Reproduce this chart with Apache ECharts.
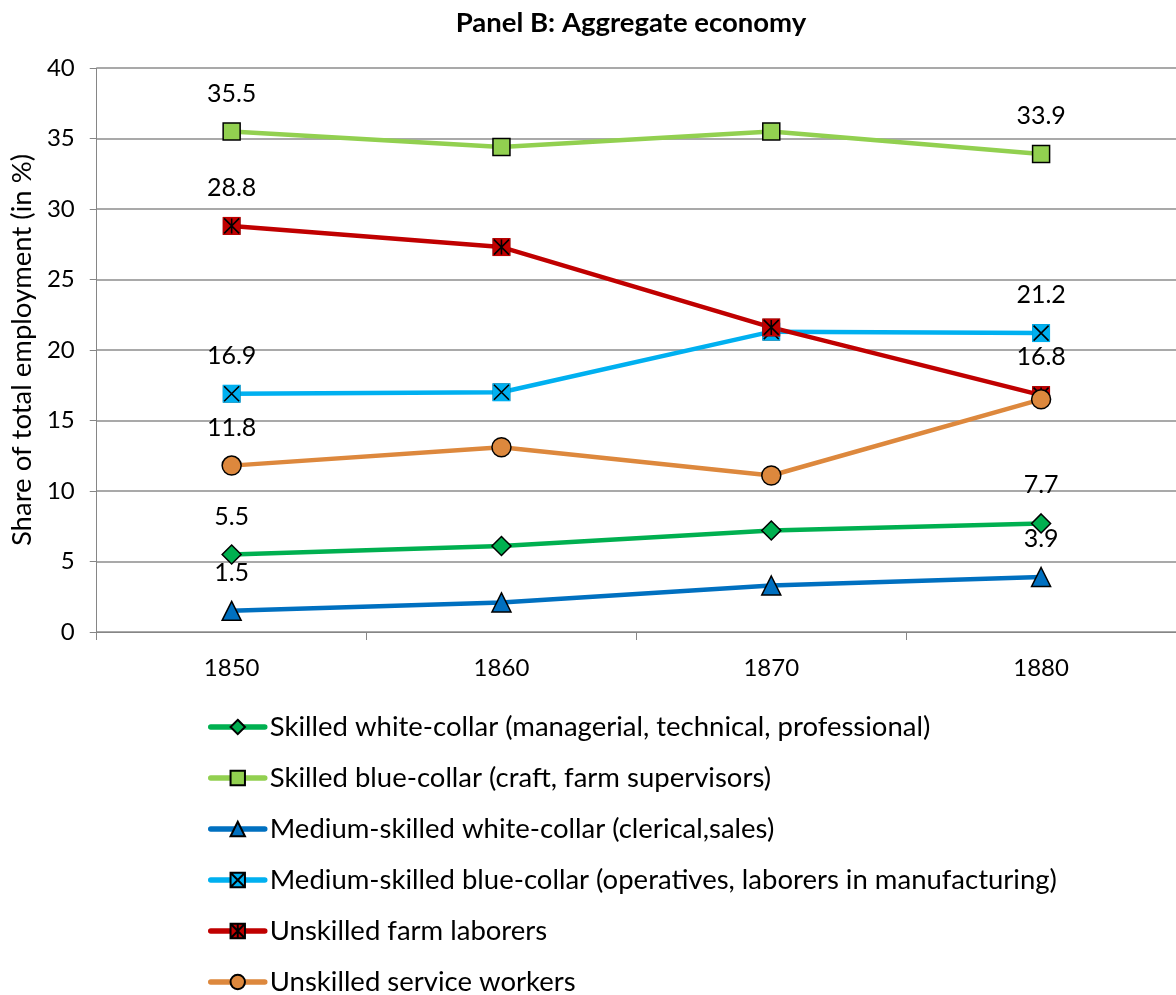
<!DOCTYPE html>
<html>
<head>
<meta charset="utf-8">
<script src="https://cdn.jsdelivr.net/npm/echarts@6/dist/echarts.min.js"></script>
<style>
  html, body { margin: 0; padding: 0; background: #fff; }
  #chart { width: 1176px; height: 995px; }
</style>
</head>
<body>
<div id="chart"></div>
<script>
// Decades on the horizontal axis
const years = ['1850', '1860', '1870', '1880'];

// Share of total employment (in %) by occupational group
const skilledWhite = [5.5, 6.1, 7.2, 7.7];
const skilledBlue = [35.5, 34.4, 35.5, 33.9];
const mediumWhite = [1.5, 2.1, 3.3, 3.9];
const mediumBlue = [16.9, 17.0, 21.3, 21.2];
const farmLaborers = [28.8, 27.3, 21.6, 16.8];
const serviceWorkers = [11.8, 13.1, 11.1, 16.5];

// Which points carry a value label (indices into years)
const labeledSkilledWhite = [0, 3];
const labeledSkilledBlue = [0, 3];
const labeledMediumWhite = [0, 3];
const labeledMediumBlue = [0, 3];
const labeledFarm = [0, 3];
const labeledService = [0];

const seriesNames = [
  'Skilled white-collar (managerial, technical, professional)',
  'Skilled blue-collar (craft, farm supervisors)',
  'Medium-skilled white-collar (clerical,sales)',
  'Medium-skilled blue-collar (operatives, laborers in manufacturing)',
  'Unskilled farm laborers',
  'Unskilled service workers'
];

const FONT = 'Lato, "Open Sans", sans-serif';
const PATH_X = 'path://M0,0L10,10M10,0L0,10';
const PATH_STAR = 'path://M0,0L10,10M10,0L0,10M5,0L5,10';
const PATH_SQ_X = 'path://M0,0L10,0L10,10L0,10Z M0,0L10,10M10,0L0,10';
const PATH_SQ_STAR = 'path://M0,0L10,0L10,10L0,10Z M0,0L10,10M10,0L0,10M5,0L5,10';

function withLabels(values, labeled) {
  return values.map((v, i) => labeled.includes(i)
    ? { value: v, label: { show: true } }
    : { value: v });
}

const labelStyle = {
  show: false,
  position: 'inside',
  offset: [0, -38],
  color: '#000',
  fontSize: 25,
  fontFamily: FONT,
  formatter: p => p.value.toFixed(1)
};

function lineSeries(name, values, labeled, color, symbol, size) {
  return {
    name: name,
    type: 'line',
    data: withLabels(values, labeled),
    symbol: symbol,
    symbolSize: size,
    showAllSymbol: true,
    lineStyle: { color: color, width: 4.5 },
    itemStyle: { color: color, borderColor: '#000', borderWidth: 1.5 },
    label: labelStyle,
    emphasis: { disabled: true },
    animation: false
  };
}

// Marker-only layer over a series' points (no line, not in the legend)
function markerLayer(name, values, symbol, size, fill, stroke, strokeWidth) {
  return {
    name: name,
    type: 'line',
    data: values,
    symbol: symbol,
    symbolSize: size,
    showAllSymbol: true,
    lineStyle: { opacity: 0, width: 0 },
    itemStyle: { color: fill, borderColor: stroke, borderWidth: strokeWidth },
    label: { show: false },
    emphasis: { disabled: true },
    silent: true,
    animation: false
  };
}

const chart = echarts.init(document.getElementById('chart'), null, { renderer: 'canvas' });

chart.setOption({
  backgroundColor: '#fff',
  animation: false,
  title: {
    text: 'Panel B: Aggregate economy',
    left: 631,
    textAlign: 'center',
    top: 9,
    padding: 0,
    textStyle: { fontFamily: FONT, fontWeight: 'bold', fontSize: 27.5, color: '#000' }
  },
  grid: { left: 95, top: 68, width: 1088, height: 564, containLabel: false },
  legend: {
    orient: 'vertical',
    left: 208,
    top: 713,
    height: 320,
    padding: 0,
    itemWidth: 54,
    itemHeight: 18,
    itemGap: 23,
    lineStyle: { width: 5.5, cap: 'round' },
    textStyle: { fontFamily: FONT, fontSize: 27.5, color: '#000', lineHeight: 26 },
    data: seriesNames
  },
  xAxis: {
    type: 'category',
    data: years,
    boundaryGap: true,
    axisLine: { lineStyle: { color: '#868686', width: 1 } },
    axisTick: { show: true, length: 8, lineStyle: { color: '#868686' } },
    axisLabel: { fontFamily: FONT, fontSize: 24, color: '#000', margin: 24 },
    splitLine: { show: false }
  },
  yAxis: {
    type: 'value',
    min: 0,
    max: 40,
    interval: 5,
    name: 'Share of total employment (in %)',
    nameLocation: 'middle',
    nameRotate: 90,
    nameGap: 52,
    nameTextStyle: { fontFamily: FONT, fontSize: 27.5, color: '#000' },
    axisLine: { show: true, lineStyle: { color: '#868686', width: 1 } },
    axisTick: { show: true, inside: false, length: 7, lineStyle: { color: '#868686' } },
    axisLabel: { fontFamily: FONT, fontSize: 24, color: '#000', margin: 22 },
    splitLine: { show: true, lineStyle: { color: '#8c8c8c', width: 1.5 } }
  },
  series: [
    lineSeries(seriesNames[0], skilledWhite, labeledSkilledWhite, '#00b050', 'diamond', 19),
    lineSeries(seriesNames[1], skilledBlue, labeledSkilledBlue, '#92d050', 'rect', 17),
    lineSeries(seriesNames[2], mediumWhite, labeledMediumWhite, '#0070c0', 'triangle', 19),
    // Square-with-cross marker: outlined shape for the legend, borderless fill and cross on the plot
    lineSeries(seriesNames[3], mediumBlue, labeledMediumBlue, '#00b0f0', PATH_SQ_X, 16),
    markerLayer('medium-blue-fill', mediumBlue, 'rect', 18, '#00b0f0', '#00b0f0', 0),
    markerLayer('medium-blue-cross', mediumBlue, PATH_X, 15, 'none', '#000', 1.6),
    // Square-with-asterisk marker
    lineSeries(seriesNames[4], farmLaborers, labeledFarm, '#c00000', PATH_SQ_STAR, 16),
    markerLayer('farm-fill', farmLaborers, 'rect', 18, '#c00000', '#c00000', 0),
    markerLayer('farm-star', farmLaborers, PATH_STAR, 15, 'none', '#000', 1.6),
    lineSeries(seriesNames[5], serviceWorkers, labeledService, '#dd883d', 'circle', 19)
  ]
});
</script>
</body>
</html>
